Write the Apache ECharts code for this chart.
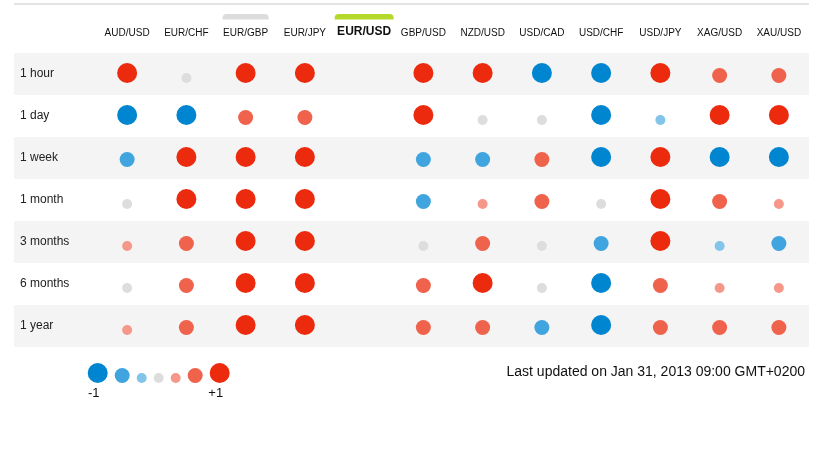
<!DOCTYPE html>
<html>
<head>
<meta charset="utf-8">
<script src="https://cdn.jsdelivr.net/npm/echarts@6/dist/echarts.min.js"></script>
<style>html,body{margin:0;padding:0;background:#fff}#c{width:819px;height:449px}</style>
</head>
<body>
<div id="c"></div>
<script>
const columns = ['AUD/USD','EUR/CHF','EUR/GBP','EUR/JPY','EUR/USD','GBP/USD','NZD/USD','USD/CAD','USD/CHF','USD/JPY','XAG/USD','XAU/USD'];
const periods = ['1 hour','1 day','1 week','1 month','3 months','6 months','1 year'];
const hour1   = [1, 0, 1, 1, null, 1, 1, -1, -1, 1, 0.67, 0.67];
const day1    = [-1, -1, 0.67, 0.67, null, 1, 0, 0, -1, -0.33, 1, 1];
const week1   = [-0.67, 1, 1, 1, null, -0.67, -0.67, 0.67, -1, 1, -1, -1];
const month1  = [0, 1, 1, 1, null, -0.67, 0.33, 0.67, 0, 1, 0.67, 0.33];
const months3 = [0.33, 0.67, 1, 1, null, 0, 0.67, 0, -0.67, 1, -0.33, -0.67];
const months6 = [0, 0.67, 1, 1, null, 0.67, 1, 0, -1, 0.67, 0.33, 0.33];
const year1   = [0.33, 0.67, 1, 1, null, 0.67, 0.67, -0.67, -1, 0.67, 0.67, 0.67];
const rows = [hour1, day1, week1, month1, months3, months6, year1];
const levels = [-1, -0.67, -0.33, 0, 0.33, 0.67, 1];
const legendLabels = ['-1', '+1'];
const selectedCol = 'EUR/USD';
const hoverCol = 'EUR/GBP';
const updatedText = 'Last updated on Jan 31, 2013 09:00 GMT+0200';

// styles
const levelColors = ['#0086d0', '#40a4de', '#82c4ea', '#dddddd', '#f5988a', '#ef624c', '#ec2b0e'];
const levelSizes = [20, 15, 10, 10, 10, 15, 20];
const FONT = 'Liberation Sans, Arial, sans-serif';

function levelIndex(v) {
  let best = 0, bd = Infinity;
  levels.forEach((l, i) => { const d = Math.abs(l - v); if (d < bd) { bd = d; best = i; } });
  return best;
}

const data = [];
rows.forEach((row, r) => {
  row.forEach((v, c) => {
    if (v === null) return;
    const k = levelIndex(v);
    const s = levelSizes[k];
    data.push({
      value: [c, r, v],
      symbolSize: s,
      symbolOffset: [0, 9 - s / 2],
      itemStyle: { color: levelColors[k], opacity: 1 }
    });
  });
});

const chart = echarts.init(document.getElementById('c'), null, { renderer: 'canvas' });

const option = {
  animation: false,
  backgroundColor: '#fff',
  grid: [
    { left: 14, width: 795, top: 53, height: 294 },
    { left: 97.5, width: 711, top: 53, height: 294 }
  ],
  xAxis: [
    { gridIndex: 0, type: 'value', min: 0, max: 1, show: false },
    {
      gridIndex: 1, type: 'category', data: columns, position: 'top',
      axisLine: { show: false }, axisTick: { show: false }, splitLine: { show: false },
      axisLabel: {
        interval: 0, margin: 15,
        formatter: (v) => v === selectedCol ? '{b|' + v + '}' : '{n|' + v + '}',
        rich: {
          n: { fontSize: 10, fontFamily: FONT, color: '#111' },
          b: { fontSize: 12, fontWeight: 'bold', fontFamily: FONT, color: '#111' }
        }
      }
    }
  ],
  yAxis: [
    {
      gridIndex: 0, type: 'category', data: periods, inverse: true,
      axisLine: { show: false }, axisTick: { show: false },
      splitLine: { show: false },
      splitArea: { show: true, areaStyle: { color: ['#f4f4f4', '#ffffff'] } },
      axisLabel: { inside: true, margin: 6, fontSize: 12, fontFamily: FONT, color: '#222' }
    },
    {
      gridIndex: 1, type: 'category', data: periods, inverse: true, show: false
    }
  ],
  series: [
    {
      type: 'scatter', xAxisIndex: 1, yAxisIndex: 1, data: data,
      symbol: 'circle', silent: true,
      itemStyle: { opacity: 1 },
      emphasis: { disabled: true }
    }
  ]
};
chart.setOption(option);

// decorations
const graphics = [];
graphics.push({ type: 'rect', shape: { x: 14, y: 3, width: 795, height: 2 }, style: { fill: '#e4e4e4' }, silent: true });
const xSel = chart.convertToPixel({ xAxisIndex: 1 }, selectedCol);
const xHov = chart.convertToPixel({ xAxisIndex: 1 }, hoverCol);
graphics.push({ type: 'rect', shape: { x: xSel - 29.5, y: 14, width: 59, height: 5.5, r: [4, 4, 0, 0] }, style: { fill: '#b5d92b' }, silent: true });
graphics.push({ type: 'rect', shape: { x: xHov - 23, y: 14, width: 46, height: 5.5, r: [4, 4, 0, 0] }, style: { fill: '#dcdcdc' }, silent: true });

// legend
let lx = 87.7;
const bottom = 383;
const gap = 7;
const centers = [];
levels.forEach((l, i) => {
  const s = levelSizes[i];
  const cx = lx + s / 2;
  centers.push(cx);
  graphics.push({ type: 'circle', shape: { cx: cx, cy: bottom - s / 2, r: s / 2 }, style: { fill: levelColors[i] }, silent: true });
  lx += s + gap;
});
graphics.push({ type: 'text', style: { x: centers[0] - 4, y: 393, text: legendLabels[0], fontSize: 13, fontFamily: FONT, fill: '#111', align: 'center', verticalAlign: 'middle' }, silent: true });
graphics.push({ type: 'text', style: { x: centers[centers.length - 1] - 4, y: 393, text: legendLabels[1], fontSize: 13, fontFamily: FONT, fill: '#111', align: 'center', verticalAlign: 'middle' }, silent: true });
graphics.push({ type: 'text', style: { x: 805, y: 372, text: updatedText, fontSize: 14, fontFamily: FONT, fill: '#111', align: 'right', verticalAlign: 'middle' }, silent: true });

chart.setOption({ graphic: graphics });
</script>
</body>
</html>
